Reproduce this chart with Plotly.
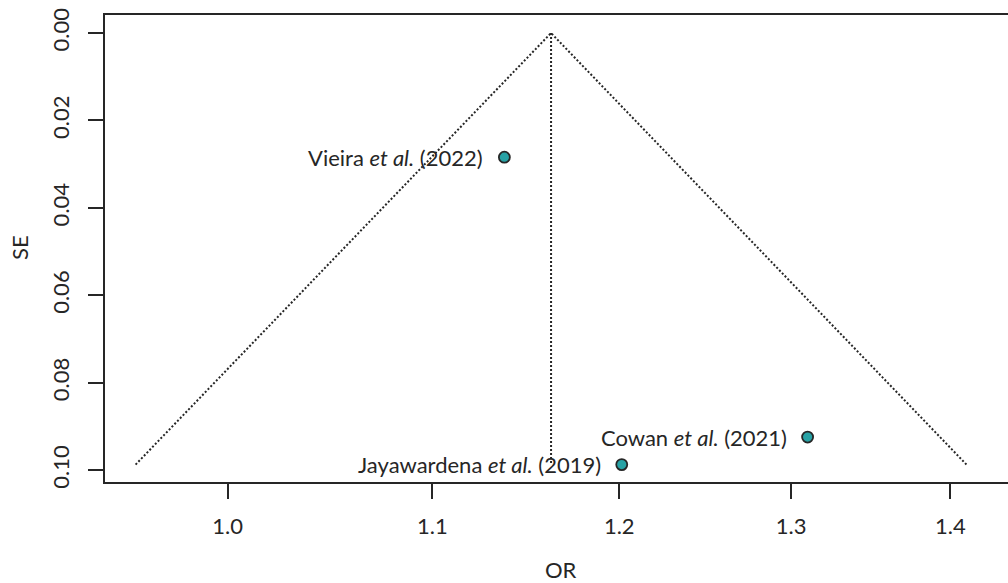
import numpy as np
import plotly.graph_objects as go

# Study estimates: odds ratios and their standard errors (log scale)
studies = ["Vieira <i>et al.</i> (2022)", "Cowan <i>et al.</i> (2021)", "Jayawardena <i>et al.</i> (2019)"]
odds_ratios = [1.1375, 1.310, 1.2014]
std_errors = [0.0284, 0.0924, 0.0987]

# Pooled estimate at the apex of the funnel
pooled_or = 1.1625

x_ticks = [1.0, 1.1, 1.2, 1.3, 1.4]
x_tick_labels = ["1.0", "1.1", "1.2", "1.3", "1.4"]
y_ticks = [0.00, 0.02, 0.04, 0.06, 0.08, 0.10]
y_tick_labels = ["0.00", "0.02", "0.04", "0.06", "0.08", "0.10"]

INK = "#262626"
FONT = "Lato"
FS = 22

se_max = max(std_errors)
log_est = np.log(pooled_or)
funnel_x = np.exp([log_est - 1.96 * se_max, log_est, log_est + 1.96 * se_max])
funnel_y = [se_max, 0.0, se_max]

fig = go.Figure()

# Pseudo confidence region (funnel)
fig.add_trace(go.Scatter(
    x=funnel_x, y=funnel_y, mode="lines",
    line=dict(color=INK, width=2, dash="2px,2px"),
    hoverinfo="skip", showlegend=False,
))
# Vertical reference line at the pooled estimate
fig.add_trace(go.Scatter(
    x=[pooled_or, pooled_or], y=[0.0, se_max], mode="lines",
    line=dict(color=INK, width=2, dash="2px,2px"),
    hoverinfo="skip", showlegend=False,
))
# Individual studies
fig.add_trace(go.Scatter(
    x=odds_ratios, y=std_errors, mode="markers",
    marker=dict(size=11, color="#27a2a5", line=dict(color=INK, width=1.8)),
    showlegend=False,
))

for name, orv, se in zip(studies, odds_ratios, std_errors):
    fig.add_annotation(
        x=np.log10(orv), y=se, text=name, showarrow=False,
        xanchor="right", yanchor="middle", xshift=-19, yshift=0,
        font=dict(family=FONT, size=FS, color=INK),
    )

W, H = 1008, 583
L, R, T, B = 105, 0, 15, 101
pw, ph = W - L - R, H - T - B

# Axis titles, placed in pixels and converted to paper coordinates
fig.add_annotation(
    x=(561 - L) / pw, y=1 - (569 - T) / ph, xref="paper", yref="paper",
    text="OR", showarrow=False, xanchor="center", yanchor="middle", borderpad=0,
    font=dict(family=FONT, size=FS, color=INK),
)
fig.add_annotation(
    x=(19 - L) / pw, y=1 - (248 - T) / ph, xref="paper", yref="paper",
    text="SE", showarrow=False, textangle=-90, xanchor="center", yanchor="middle",
    font=dict(family=FONT, size=FS, color=INK),
)

fig.update_layout(
    width=W, height=H,
    margin=dict(l=L, r=R, t=T, b=B),
    plot_bgcolor="white", paper_bgcolor="white",
    font=dict(family=FONT, size=FS, color=INK),
    xaxis=dict(
        type="log", range=[-0.024812, 0.157797],
        tickvals=x_ticks, ticktext=x_tick_labels,
        ticks="outside", ticklen=15, tickwidth=2, tickcolor=INK,
        showline=True, linecolor=INK, linewidth=2, mirror=True,
        showgrid=False, zeroline=False, ticklabelstandoff=9,
    ),
    yaxis=dict(
        range=[0.10268, -0.004122],
        tickvals=y_ticks, ticktext=y_tick_labels, tickangle=-90,
        ticks="outside", ticklen=15, tickwidth=2, tickcolor=INK,
        showline=True, linecolor=INK, linewidth=2, mirror=False,
        showgrid=False, zeroline=False, ticklabelstandoff=10,
    ),
)

fig.write_html("out.html")
